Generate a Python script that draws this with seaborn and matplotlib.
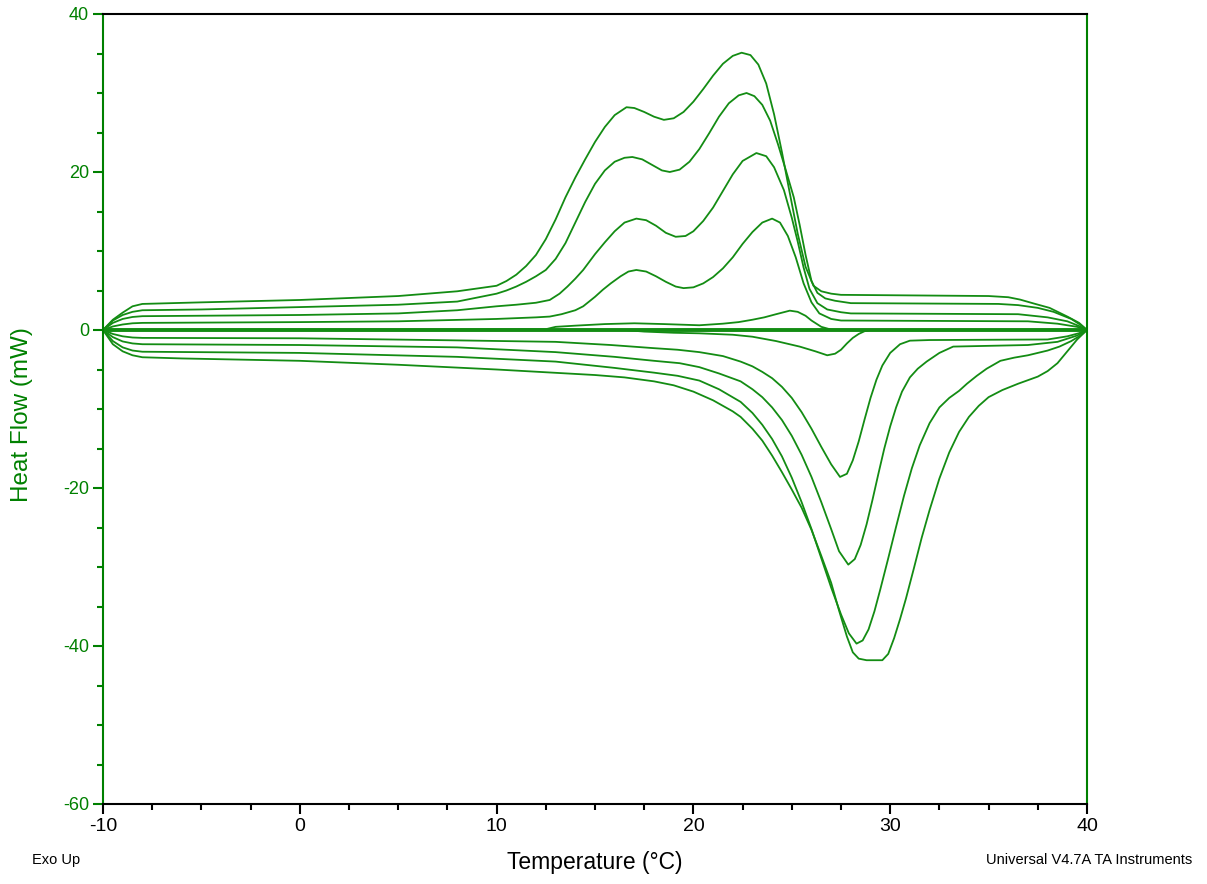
import numpy as np
import pandas as pd
import matplotlib
matplotlib.use("Agg")
import matplotlib.pyplot as plt
from matplotlib.ticker import MultipleLocator
import seaborn as sns

# ---------------- data ----------------
# cooling traces (exotherm up)
cool1_T  = [-10, -5, 0, 5, 10, 12.5, 13, 14, 15.5, 17, 18.5, 20.3, 21.5, 22.3, 23, 23.6, 24.2, 24.9, 25.3, 25.7, 26, 26.5, 27, 27.5, 40]
cool1_HF = [0, 0.05, 0.05, 0.05, 0.08, 0.1, 0.4, 0.55, 0.75, 0.85, 0.75, 0.6, 0.8, 1.0, 1.3, 1.6, 2.0, 2.45, 2.3, 1.8, 1.2, 0.4, 0.05, 0, 0]

cool2_T  = [-10, -9.5, -9, -8.5, -8, 0, 5, 10, 11, 12, 12.7, 13.3, 14, 14.4, 15, 15.4, 15.8, 16.3, 16.7, 17.1, 17.6, 18.1, 18.6, 19.1, 19.5, 20, 20.5, 21, 21.5, 22, 22.5, 23, 23.5, 24.0, 24.4, 24.8, 25.2, 25.6, 26.0, 26.4, 27, 27.5, 37, 38.5, 39.5, 40]
cool2_HF = [0, 0.45, 0.7, 0.85, 0.9, 1.0, 1.1, 1.4, 1.5, 1.6, 1.7, 2.0, 2.5, 3.0, 4.2, 5.1, 5.9, 6.8, 7.4, 7.6, 7.4, 6.8, 6.1, 5.5, 5.3, 5.4, 5.9, 6.7, 7.8, 9.2, 10.9, 12.4, 13.6, 14.1, 13.6, 11.9, 9.2, 5.9, 3.5, 2.1, 1.4, 1.2, 1.1, 0.8, 0.4, 0]

cool3_T  = [-10, -9.5, -9, -8.5, -8, 0, 5, 8, 10, 11, 12, 12.7, 13.2, 13.6, 14, 14.4, 15, 15.5, 16, 16.5, 17.1, 17.6, 18.1, 18.6, 19.1, 19.6, 20, 20.5, 21, 21.5, 22, 22.5, 23.2, 23.7, 24.1, 24.6, 25.0, 25.3, 25.6, 25.9, 26.3, 26.8, 27.5, 28, 36.5, 38, 39, 39.6, 40]
cool3_HF = [0, 0.9, 1.4, 1.65, 1.75, 1.9, 2.1, 2.5, 3.0, 3.2, 3.45, 3.8, 4.6, 5.5, 6.5, 7.6, 9.6, 11.1, 12.5, 13.6, 14.1, 13.9, 13.2, 12.3, 11.8, 11.9, 12.5, 13.8, 15.5, 17.6, 19.7, 21.4, 22.4, 22.0, 20.6, 17.7, 14.2, 11.2, 7.9, 5.2, 3.4, 2.6, 2.25, 2.1, 2.0, 1.6, 1.1, 0.5, 0]

cool4_T  = [-10, -9.5, -9, -8.5, -8, -5, 0, 5, 8, 10, 10.5, 11, 11.5, 12, 12.5, 13, 13.5, 14, 14.5, 15, 15.5, 16, 16.5, 16.9, 17.4, 17.9, 18.4, 18.8, 19.3, 19.8, 20.3, 20.8, 21.3, 21.8, 22.3, 22.7, 23.1, 23.5, 23.9, 24.3, 24.7, 25.1, 25.4, 25.7, 26.0, 26.3, 26.7, 27.2, 28, 35.5, 36.5, 37.5, 38.3, 39.2, 39.7, 40]
cool4_HF = [0, 1.2, 1.9, 2.3, 2.5, 2.6, 2.9, 3.2, 3.6, 4.6, 5.0, 5.5, 6.1, 6.8, 7.6, 9.0, 11.0, 13.6, 16.2, 18.5, 20.2, 21.3, 21.8, 21.9, 21.6, 20.9, 20.2, 20.0, 20.3, 21.3, 22.9, 24.9, 27.0, 28.7, 29.7, 30.0, 29.6, 28.5, 26.5, 23.5, 20.2, 16.8, 13.3, 9.5, 6.2, 4.7, 4.0, 3.7, 3.4, 3.3, 3.15, 2.8, 2.3, 1.4, 0.6, 0]

cool5_T  = [-10, -9.5, -9, -8.5, -8, -5, 0, 5, 8, 10, 10.5, 11, 11.5, 12, 12.5, 13, 13.5, 14, 14.5, 15, 15.5, 16, 16.6, 17, 17.5, 18, 18.5, 19, 19.5, 20, 20.5, 21, 21.5, 22, 22.45, 22.9, 23.3, 23.7, 24.1, 24.5, 24.9, 25.3, 25.7, 26.1, 26.5, 27, 27.5, 35, 36, 36.6, 37.3, 38.1, 39, 39.6, 40]
cool5_HF = [0, 1.3, 2.2, 3.0, 3.3, 3.5, 3.8, 4.3, 4.9, 5.6, 6.2, 7.0, 8.1, 9.5, 11.5, 14.0, 16.8, 19.3, 21.6, 23.8, 25.7, 27.2, 28.2, 28.1, 27.6, 27.0, 26.6, 26.8, 27.6, 28.9, 30.5, 32.2, 33.7, 34.7, 35.1, 34.8, 33.6, 31.2, 27.3, 22.5, 17.3, 12.2, 8.0, 5.6, 4.9, 4.6, 4.45, 4.3, 4.15, 3.85, 3.35, 2.8, 1.7, 0.9, 0]

# heating traces (endotherm down)
heat1_T  = [-10, 16.5, 17.5, 19, 20.3, 22, 23, 24.2, 25.4, 26.2, 26.8, 27.2, 27.5, 27.8, 28.1, 28.4, 28.7, 29, 40]
heat1_HF = [0, 0, -0.2, -0.35, -0.42, -0.6, -0.85, -1.4, -2.1, -2.7, -3.2, -3.0, -2.5, -1.7, -1.0, -0.5, -0.15, 0, 0]

heat2_T  = [-10, -9.5, -9, -8.5, -8, 0, 7.6, 13, 15.8, 18, 19.2, 20.3, 21.5, 22.4, 23, 23.5, 24, 24.5, 25, 25.5, 26, 26.5, 27, 27.45, 27.8, 28.1, 28.4, 28.7, 29, 29.3, 29.6, 30, 30.5, 31, 32, 38, 39, 39.6, 40]
heat2_HF = [0, -0.5, -0.8, -0.95, -1.0, -1.05, -1.3, -1.5, -1.9, -2.3, -2.5, -2.8, -3.3, -4.0, -4.6, -5.3, -6.1, -7.2, -8.6, -10.4, -12.5, -14.8, -17.0, -18.6, -18.2, -16.5, -14.1, -11.3, -8.6, -6.3, -4.5, -2.9, -1.8, -1.35, -1.27, -1.2, -0.8, -0.4, 0]

heat3_T  = [-10, -9.5, -9, -8.5, -8, 0, 8, 13, 16, 18, 19.3, 20.3, 21.3, 22.4, 23, 23.5, 24, 24.5, 25, 25.5, 26, 26.5, 27, 27.4, 27.87, 28.2, 28.5, 28.8, 29.1, 29.4, 29.7, 30, 30.3, 30.6, 31, 31.4, 31.85, 32.5, 33.2, 37, 38.5, 39.5, 40]
heat3_HF = [0, -0.9, -1.45, -1.7, -1.8, -1.9, -2.2, -2.8, -3.4, -3.9, -4.2, -4.7, -5.5, -6.5, -7.5, -8.5, -9.8, -11.4, -13.4, -15.8, -18.6, -21.8, -25.2, -28.0, -29.7, -29.0, -27.2, -24.6, -21.5, -18.2, -15.0, -12.2, -9.8, -7.8, -6.0, -4.9, -4.0, -2.9, -2.1, -1.9, -1.5, -0.7, 0]

heat4_T  = [-10, -9.5, -9, -8.5, -8, 0, 8, 13, 16, 18, 19.2, 20.3, 21.3, 22.4, 23, 23.5, 24, 24.5, 25, 25.5, 26, 26.5, 27, 27.5, 27.9, 28.29, 28.6, 28.9, 29.2, 29.5, 29.9, 30.3, 30.7, 31.1, 31.5, 32, 32.5, 33, 33.5, 33.9, 34.4, 34.9, 35.6, 36.3, 37, 38, 38.6, 39.2, 39.6, 40]
heat4_HF = [0, -1.4, -2.2, -2.6, -2.75, -2.9, -3.4, -4.0, -4.8, -5.4, -5.8, -6.4, -7.5, -9.1, -10.5, -12, -13.8, -16, -18.7, -21.8, -25.2, -28.9, -32.6, -36.0, -38.4, -39.7, -39.3, -37.9, -35.6, -32.8, -28.9, -24.9, -21.0, -17.5, -14.6, -11.8, -9.8, -8.6, -7.7, -6.8, -5.8, -4.9, -3.9, -3.5, -3.2, -2.6, -2.1, -1.4, -0.8, 0]

heat5_T  = [-10, -9.5, -9, -8.5, -8, -6, 0, 5, 10, 15, 16.5, 18, 19, 20, 21, 22, 22.4, 23, 23.5, 24, 24.5, 25, 25.5, 26, 26.5, 27, 27.4, 27.8, 28.1, 28.4, 28.8, 29.6, 29.9, 30.2, 30.5, 30.8, 31.2, 31.6, 32, 32.5, 33, 33.5, 34, 34.5, 35, 35.7, 36.5, 37.5, 38, 38.5, 39, 39.5, 40]
heat5_HF = [0, -1.8, -2.7, -3.2, -3.45, -3.6, -3.9, -4.4, -5.0, -5.7, -6.0, -6.5, -7.0, -7.8, -8.9, -10.3, -11.0, -12.5, -14, -15.9, -18, -20.2, -22.5, -25.3, -28.6, -32, -35.5, -38.8, -40.8, -41.6, -41.8, -41.8, -41.0, -39.0, -36.6, -34.0, -30.2, -26.3, -22.8, -18.8, -15.5, -12.9, -11.0, -9.6, -8.5, -7.6, -6.8, -5.9, -5.2, -4.2, -2.7, -1.2, 0]

zero_T  = [-10, 40]
zero_HF = [0, 0]

x_ticks = [-10, 0, 10, 20, 30, 40]
y_ticks = [-60, -40, -20, 0, 20, 40]

# ---------------- assemble ----------------
traces = {
    "cool1": (cool1_T, cool1_HF), "cool2": (cool2_T, cool2_HF), "cool3": (cool3_T, cool3_HF),
    "cool4": (cool4_T, cool4_HF), "cool5": (cool5_T, cool5_HF),
    "heat1": (heat1_T, heat1_HF), "heat2": (heat2_T, heat2_HF), "heat3": (heat3_T, heat3_HF),
    "heat4": (heat4_T, heat4_HF), "heat5": (heat5_T, heat5_HF),
}
df = pd.concat([pd.DataFrame({"T": t, "HF": h, "trace": k}) for k, (t, h) in traces.items()],
               ignore_index=True)
df_zero = pd.DataFrame({"T": zero_T, "HF": zero_HF})

sns.set_style("white")
plt.rcParams["font.family"] = ["Liberation Sans", "DejaVu Sans"]
plt.rcParams["axes.unicode_minus"] = False

GREEN = "#008000"
LINE = "#138c13"

fig = plt.figure(figsize=(12.07, 8.84), dpi=100)
ax = fig.add_axes([103 / 1207, 1 - 804 / 884, 984 / 1207, 790 / 884])

sns.lineplot(data=df, x="T", y="HF", units="trace", estimator=None, color=LINE,
             linewidth=1.3, sort=False, ax=ax, legend=False)
sns.lineplot(data=df_zero, x="T", y="HF", color=LINE, linewidth=2.8, ax=ax, legend=False)

ax.set_xlim(-10, 40)
ax.set_ylim(-60, 40)
ax.set_xticks(x_ticks)
ax.set_yticks(y_ticks)
ax.set_xticklabels([str(v) for v in x_ticks])
ax.set_yticklabels([str(v) for v in y_ticks])
ax.xaxis.set_minor_locator(MultipleLocator(2.5))
ax.yaxis.set_minor_locator(MultipleLocator(5))

ax.tick_params(axis="x", which="major", direction="out", length=7, width=1.5, color="black",
               labelsize=14, labelcolor="black", pad=3, bottom=True, top=False)
ax.tick_params(axis="x", which="minor", direction="out", length=4.5, width=1.5, color="black",
               bottom=True, top=False)
ax.tick_params(axis="y", which="major", direction="out", length=7, width=1.5, color=GREEN,
               labelsize=13, labelcolor=GREEN, pad=3, left=True, right=False)
ax.tick_params(axis="y", which="minor", direction="out", length=4.5, width=1.5, color=GREEN,
               left=True, right=False)

for side in ["left", "right", "top", "bottom"]:
    ax.spines[side].set_visible(True)
    ax.spines[side].set_linewidth(1.5)
ax.spines["left"].set_color(GREEN)
ax.spines["right"].set_color(GREEN)
ax.spines["top"].set_color("black")
ax.spines["bottom"].set_color("black")

ax.set_xlabel("Temperature (°C)", fontsize=16.5, color="black", va="center")
ax.xaxis.set_label_coords(0.5, (804 - 862) / 790)
ax.set_ylabel("Heat Flow (mW)", fontsize=17.5, color=GREEN, va="center")
ax.yaxis.set_label_coords((22 - 103) / 984, (804 - 415) / 790)

fig.text(32 / 1207, 1 - 860 / 884, "Exo Up", fontsize=10.5, color="black", ha="left", va="center")
fig.text(1192 / 1207, 1 - 860 / 884, "Universal V4.7A TA Instruments", fontsize=10.5,
         color="black", ha="right", va="center")

fig.savefig("out.png", dpi=100, facecolor="white")
